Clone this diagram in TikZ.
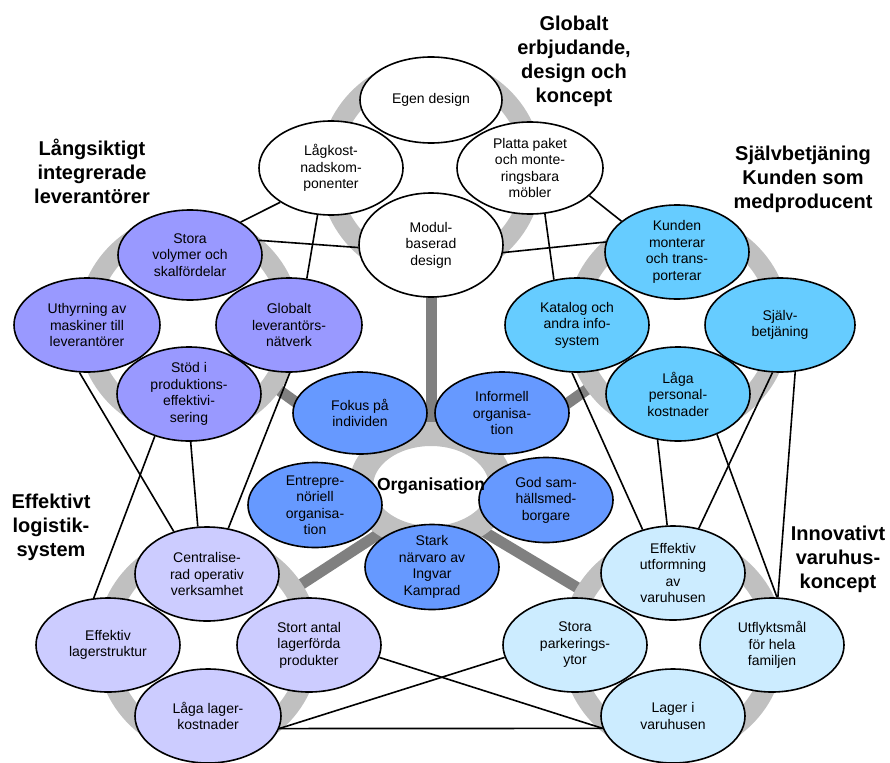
\documentclass[tikz,border=0pt]{standalone}
\usepackage{fontspec}
\setmainfont{Liberation Sans}
\usetikzlibrary{shapes.geometric}
\definecolor{ringgray}{HTML}{C0C0C0}
\definecolor{bargray}{HTML}{808080}
\definecolor{lila}{HTML}{9999FF}
\definecolor{cyan1}{HTML}{66CCFF}
\definecolor{blue1}{HTML}{6699FF}
\definecolor{lavender}{HTML}{CCCCFF}
\definecolor{ice}{HTML}{CCECFF}
\begin{document}
\begin{tikzpicture}[x=1pt,y=-1pt,line width=1.6pt,
  main node/.style={ellipse,draw,fill=white,minimum width=144pt,minimum height=94pt,
    inner xsep=0pt,inner ysep=-6pt,align=center,font=\fontsize{14}{16.5}\selectfont},
  org node/.style={main node,fill=blue1,minimum width=134pt,minimum height=85pt},
  group label/.style={align=center,font=\fontsize{20}{24}\selectfont\bfseries},
  ring/.style={draw=ringgray,fill=white,line width=20pt},
  bar/.style={draw=bargray,line width=11pt}]

  \useasboundingbox (0,0) rectangle (890,762);

  % centres of the groups
  \coordinate (hub) at (431,500);
  \coordinate (c0) at (431,486);
  \coordinate (c1) at (431,170);
  \coordinate (c2) at (189,325);
  \coordinate (c3) at (678,325);
  \coordinate (c4) at (208,645);
  \coordinate (c5) at (673,645);

  \foreach \c in {c1,c2,c3,c4,c5}
    \draw[bar] (hub) -- (\c);
  \foreach \c in {c1,c2,c3,c4,c5}
    \draw[ring] (\c) circle (102pt);
  \draw[ring,line width=24pt] (c0) ellipse [x radius=70pt,y radius=52pt];

  % design
  \node[main node,minimum width=142pt,minimum height=86pt] (0) at (431,100) {Egen design};
  \node[main node] (1) at (331,168) {Lågkost-\\nadskom-\\ponenter};
  \node[main node,minimum width=146pt,minimum height=92pt] (2) at (530,168) {Platta paket\\och monte-\\ringsbara\\möbler};
  \node[main node,minimum height=104pt] (3) at (431,245) {Modul-\\baserad\\design};

  % leverantorer
  \node[main node,fill=lila,minimum height=90pt] (4) at (190,255) {Stora\\volymer och\\skalfördelar};
  \node[main node,fill=lila,minimum width=146pt] (5) at (87,325) {Uthyrning av\\maskiner till\\leverantörer};
  \node[main node,fill=lila,minimum width=146pt] (6) at (289,325) {Globalt\\leverantörs-\\nätverk};
  \node[main node,fill=lila] (7) at (189,394) {Stöd i\\produktions-\\effektivi-\\sering};

  % sjalvbetjaning
  \node[main node,fill=cyan1] (8) at (677,252) {Kunden\\monterar\\och trans-\\porterar};
  \node[main node,fill=cyan1] (9) at (577,325) {Katalog och\\andra info-\\system};
  \node[main node,fill=cyan1,minimum width=150pt] (10) at (780,325) {Själv-\\betjäning};
  \node[main node,fill=cyan1] (11) at (678,394) {Låga\\personal-\\kostnader};

  % organisation
  \node[org node,minimum height=82pt] (12) at (360,413) {Fokus på\\individen};
  \node[org node,minimum height=82pt] (13) at (502,413) {Informell\\organisa-\\tion};
  \node[org node] (14) at (315,505) {Entrepre-\\nöriell\\organisa-\\tion};
  \node[org node] (15) at (546,500) {God sam-\\hällsmed-\\borgare};
  \node[org node] (16) at (432,567) {Stark\\närvaro av\\Ingvar\\Kamprad};
  \node[font=\fontsize{17.5}{20}\selectfont\bfseries] (org) at (431,486) {Organisation};

  % logistik
  \node[main node,fill=lavender] (17) at (207,574) {Centralise-\\rad operativ\\verksamhet};
  \node[main node,fill=lavender] (18) at (108,645) {Effektiv\\lagerstruktur};
  \node[main node,fill=lavender] (19) at (309,645) {Stort antal\\lagerförda\\produkter};
  \node[main node,fill=lavender,minimum width=146pt] (20) at (208,716) {Låga lager-\\kostnader};

  % varuhus
  \node[main node,fill=ice] (21) at (673,573) {Effektiv\\utformning\\av\\varuhusen};
  \node[main node,fill=ice] (22) at (575,645) {Stora\\parkerings-\\ytor};
  \node[main node,fill=ice] (23) at (772,645) {Utflyktsmål\\för hela\\familjen};
  \node[main node,fill=ice] (24) at (673,716) {Lager i\\varuhusen};

  \node[group label] (g1) at (574,61) {Globalt\\erbjudande,\\design och\\koncept};
  \node[group label] (g2) at (92,171) {Långsiktigt\\integrerade\\leverantörer};
  \node[group label] (g3) at (803,179) {Självbetjäning\\Kunden som\\medproducent};
  \node[group label] (g4) at (51,527) {Effektivt\\logistik-\\system};
  \node[group label] (g5) at (838,559) {Innovativt\\varuhus-\\koncept};

  \path
    (1.214) edge (4.33)
    (1.254) edge (6.69)
    (4.12) edge (3.182)
    (2.335) edge (8.151)
    (2.288) edge (9.117)
    (3.354) edge (8.172)
    (5.261) edge (17.128)
    (7.231) edge (18.107)
    (7.272) edge (17.101)
    (6.271) edge (17.65)
    (9.264) edge (21.125)
    (11.246) edge (21.97)
    (10.261) edge (21.60)
    (11.314) edge (23.84)
    (10.288) edge (23.83)
    (19.350) edge (24.190)
    (20.350) edge (22.190)
    (20.350) edge (24.190);
\end{tikzpicture}
\end{document}
